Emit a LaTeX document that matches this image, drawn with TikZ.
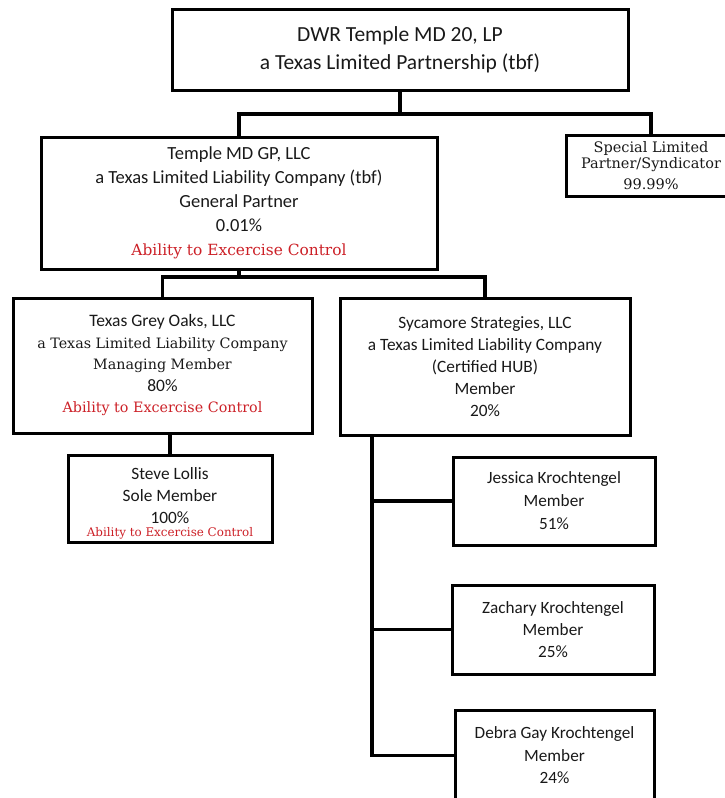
\documentclass[tikz,border=0pt]{standalone}
\usepackage{fontspec}
\setmainfont{Carlito}
\newfontfamily\camfont{DejaVu Serif}
\definecolor{ctrlred}{RGB}{204,32,39}
\tikzset{
	orgbox/.style={draw, line width=3pt, inner sep=0pt, align=center, text=black!90},
	link/.style={line width=3.5pt}
}
\begin{document}
\begin{tikzpicture}[x=1pt,y=-1pt]
	\useasboundingbox (0,0) rectangle (725,798);
	\clip (0,0) rectangle (725,798);
	
	\node[orgbox, minimum width=456, minimum height=81, font={\fontsize{21.5}{28}\selectfont}] (top) at (400,49.5)
		{DWR Temple MD 20, LP\\a Texas Limited Partnership (tbf)};
	\node[orgbox, minimum width=396, minimum height=132, font={\fontsize{18.5}{24}\selectfont}] (gp) at (239,203)
		{Temple MD GP, LLC\\a Texas Limited Liability Company (tbf)\\General Partner\\0.01\%\\{\camfont\fontsize{15.4}{24}\selectfont\color{ctrlred}Ability to Excercise Control}};
	\node[orgbox, minimum width=170, minimum height=61, font={\camfont\fontsize{14.5}{16}\selectfont}] (special) at (651,165.5)
		{Special Limited\\Partner/Syndicator\\[5pt]99.99\%};
	
	\node[orgbox, minimum width=299, minimum height=135, font={\fontsize{17.5}{21.5}\selectfont}] (tgo) at (162.5,365.5)
		{Texas Grey Oaks, LLC\\{\camfont\fontsize{14.3}{21.5}\selectfont a Texas Limited Liability Company}\\{\camfont\fontsize{14.3}{21.5}\selectfont Managing Member}\\80\%\\{\camfont\fontsize{14.3}{21.5}\selectfont\color{ctrlred}Ability to Excercise Control}};
	\node[orgbox, minimum width=290, minimum height=137, font={\fontsize{17.3}{22}\selectfont}] (syc) at (485,366.5)
		{Sycamore Strategies, LLC\\a Texas Limited Liability Company\\(Certified HUB)\\Member\\20\%};
	
	\node[orgbox, minimum width=204, minimum height=87, text height=81pt, text depth=6pt, font={\fontsize{17.3}{22}\selectfont}] (steve) at (170,498.5)
		{Steve Lollis\\Sole Member\\100\%\\[-9pt]{\camfont\fontsize{11.9}{13}\selectfont\color{ctrlred}Ability to Excercise Control}};
	
	\node[orgbox, minimum width=202, minimum height=88, font={\fontsize{17.2}{23}\selectfont}] (jes) at (554,501)
		{Jessica Krochtengel\\Member\\51\%};
	\node[orgbox, minimum width=202, minimum height=89, font={\fontsize{17.2}{22}\selectfont}] (zac) at (553,629.5)
		{Zachary Krochtengel\\Member\\25\%};
	\node[orgbox, minimum width=199, minimum height=91, font={\fontsize{17.2}{22.5}\selectfont}] (deb) at (554.5,755.5)
		{Debra Gay Krochtengel\\Member\\24\%};
	
	\coordinate (tbus) at (400,114);
	\coordinate (gbus) at (239,277);
	\coordinate (sroot) at (372,435);
	
	\draw[link] (top.south) -- (tbus);
	\draw[link] (gp.north) |- (tbus) -| (special.north);
	\draw[link] (gp.south) -- (gbus);
	\draw[link] (tgo.north) |- (gbus) -| (syc.north);
	\draw[link] (tgo.south -| steve.north) -- (steve.north);
	\draw[link] (sroot) |- (deb.west);
	\draw[link] (sroot |- jes.west) -- (jes.west);
	\draw[link] (sroot |- zac.west) -- (zac.west);
	
\end{tikzpicture}
\end{document}
